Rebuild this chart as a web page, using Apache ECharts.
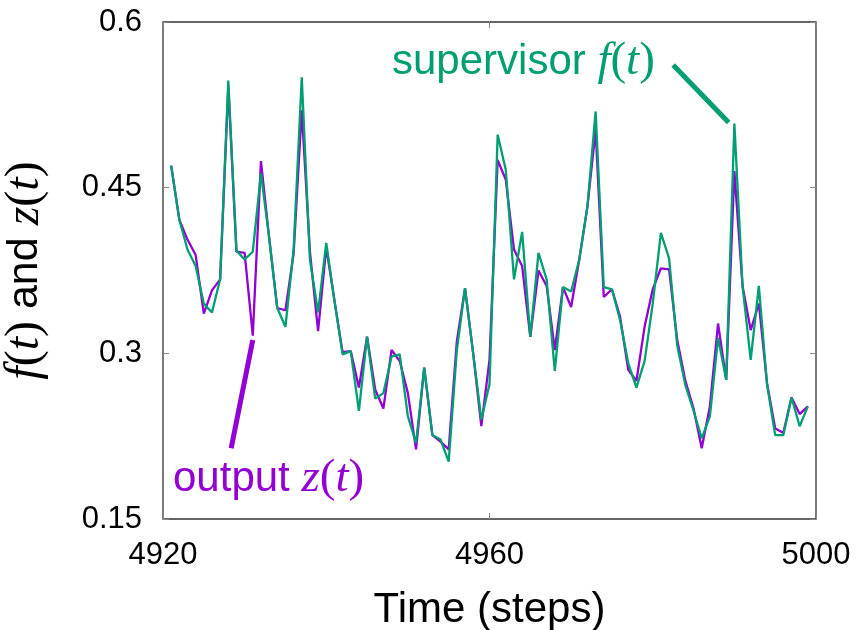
<!DOCTYPE html>
<html><head><meta charset="utf-8">
<script src="https://cdn.jsdelivr.net/npm/echarts@6/dist/echarts.min.js"></script>
<style>html,body{margin:0;padding:0;background:#fff}#c{width:866px;height:630px}</style>
</head><body><div id="c"></div>
<script>
// ---- data ----
const steps = [4921,4922,4923,4924,4925,4926,4927,4928,4929,4930,4931,4932,4933,4934,4935,4936,4937,4938,4939,4940,
  4941,4942,4943,4944,4945,4946,4947,4948,4949,4950,4951,4952,4953,4954,4955,4956,4957,4958,4959,4960,
  4961,4962,4963,4964,4965,4966,4967,4968,4969,4970,4971,4972,4973,4974,4975,4976,4977,4978,4979,4980,
  4981,4982,4983,4984,4985,4986,4987,4988,4989,4990,4991,4992,4993,4994,4995,4996,4997,4998,4999];
const supervisorF = [0.470,0.421,0.394,0.379,0.345,0.337,0.367,0.547,0.393,0.385,0.392,0.463,0.405,0.341,0.324,0.394,0.550,0.385,0.337,0.400,
  0.348,0.299,0.302,0.248,0.315,0.259,0.264,0.297,0.299,0.243,0.219,0.287,0.226,0.222,0.202,0.303,0.359,0.300,0.240,0.272,
  0.498,0.466,0.367,0.410,0.315,0.391,0.367,0.284,0.360,0.356,0.385,0.433,0.519,0.360,0.358,0.330,0.291,0.269,0.293,0.345,
  0.409,0.386,0.307,0.271,0.248,0.223,0.243,0.314,0.276,0.508,0.361,0.294,0.361,0.272,0.226,0.226,0.260,0.234,0.252];
const outputZ = [0.470,0.421,0.403,0.389,0.336,0.357,0.367,0.541,0.392,0.391,0.316,0.474,0.405,0.341,0.339,0.390,0.520,0.392,0.320,0.396,
  0.348,0.301,0.302,0.269,0.315,0.267,0.250,0.303,0.293,0.264,0.213,0.287,0.226,0.220,0.213,0.311,0.359,0.300,0.234,0.294,
  0.475,0.457,0.394,0.379,0.315,0.375,0.361,0.303,0.360,0.342,0.385,0.433,0.502,0.351,0.358,0.333,0.285,0.275,0.324,0.358,
  0.377,0.376,0.312,0.275,0.250,0.214,0.252,0.327,0.276,0.465,0.361,0.321,0.345,0.273,0.232,0.228,0.260,0.245,0.252];
const xTickLabels = ['4920','4960','5000'];
const yTickLabels = ['0.15','0.3','0.45','0.6'];

// ---- styling ----
const SANS = "'Liberation Sans', Arial, sans-serif";
const SERIF = "'Liberation Serif', 'Times New Roman', serif";
const GREEN = '#009e73', PURPLE = '#9400d3';
const mathRich = (color, size) => ({
  a: {fontFamily: SANS, fontSize: size, color: color, fill: color},
  m: {fontFamily: SERIF, fontStyle: 'italic', fontSize: size + 5, color: color, fill: color},
  p: {fontFamily: SERIF, fontSize: size + 5, color: color, fill: color}
});

const chart = echarts.init(document.getElementById('c'), null, {renderer: 'canvas'});
const tickStyle = {inside: true, length: 6, lineStyle: {color: '#888', width: 1}};
const option = {
  animation: false,
  backgroundColor: '#fff',
  grid: {left: 163, top: 22, width: 653, height: 497, outerBoundsMode: 'none', containLabel: false,
         show: true, borderColor: '#333', borderWidth: 1.3, backgroundColor: 'transparent'},
  xAxis: [
    {type: 'value', min: 4920, max: 5000, interval: 40, position: 'bottom',
     axisLine: {show: false}, axisTick: tickStyle, splitLine: {show: false},
     axisLabel: {fontFamily: SANS, fontSize: 31, color: '#000', margin: 21,
       formatter: v => xTickLabels[Math.round((v - 4920) / 40)]},
     name: 'Time (steps)', nameLocation: 'middle', nameGap: 70,
     nameTextStyle: {fontFamily: SANS, fontSize: 42, color: '#000'}},
    {type: 'value', min: 4920, max: 5000, interval: 40, position: 'top',
     axisLine: {show: false}, axisTick: tickStyle, splitLine: {show: false}, axisLabel: {show: false}}
  ],
  yAxis: [
    {type: 'value', min: 0.15, max: 0.6, interval: 0.15, position: 'left',
     axisLine: {show: false}, axisTick: tickStyle, splitLine: {show: false},
     axisLabel: {fontFamily: SANS, fontSize: 31, color: '#000', margin: 21,
       formatter: v => yTickLabels[Math.round((v - 0.15) / 0.15)]},
     name: '{m|f}{p|(}{m|t}{p|)}{a| and }{m|z}{p|(}{m|t}{p|)}', nameLocation: 'middle', nameGap: 114, nameRotate: 90,
     nameTextStyle: {rich: mathRich('#000', 43)}},
    {type: 'value', min: 0.15, max: 0.6, interval: 0.15, position: 'right',
     axisLine: {show: false}, axisTick: tickStyle, splitLine: {show: false}, axisLabel: {show: false}}
  ],
  series: [
    {name: 'output z(t)', type: 'line', data: steps.map((s, i) => [s, outputZ[i]]),
     showSymbol: false, lineStyle: {color: PURPLE, width: 2.3}, itemStyle: {color: PURPLE}, z: 2,
     markLine: {silent: true, symbol: 'none', label: {show: false},
       lineStyle: {color: PURPLE, width: 5, type: 'solid'},
       data: [[{coord: [4931.0, 0.312]}, {coord: [4928.35, 0.214]}]]}},
    {name: 'supervisor f(t)', type: 'line', data: steps.map((s, i) => [s, supervisorF[i]]),
     showSymbol: false, lineStyle: {color: GREEN, width: 2.3}, itemStyle: {color: GREEN}, z: 3,
     markLine: {silent: true, symbol: 'none', label: {show: false},
       lineStyle: {color: GREEN, width: 5, type: 'solid'},
       data: [[{coord: [4982.5, 0.561]}, {coord: [4989.3, 0.509]}]]}}
  ],
  graphic: [
    {type: 'text', x: 392, y: 62, z: 10,
     style: {text: '{a|supervisor }{m|f}{p|(}{m|t}{p|)}', rich: mathRich(GREEN, 42), fill: GREEN, verticalAlign: 'middle', align: 'left'}},
    {type: 'text', x: 173, y: 479, z: 10,
     style: {text: '{a|output }{m|z}{p|(}{m|t}{p|)}', rich: mathRich(PURPLE, 42), fill: PURPLE, verticalAlign: 'middle', align: 'left'}}
  ]
};
chart.setOption(option);
</script></body></html>
